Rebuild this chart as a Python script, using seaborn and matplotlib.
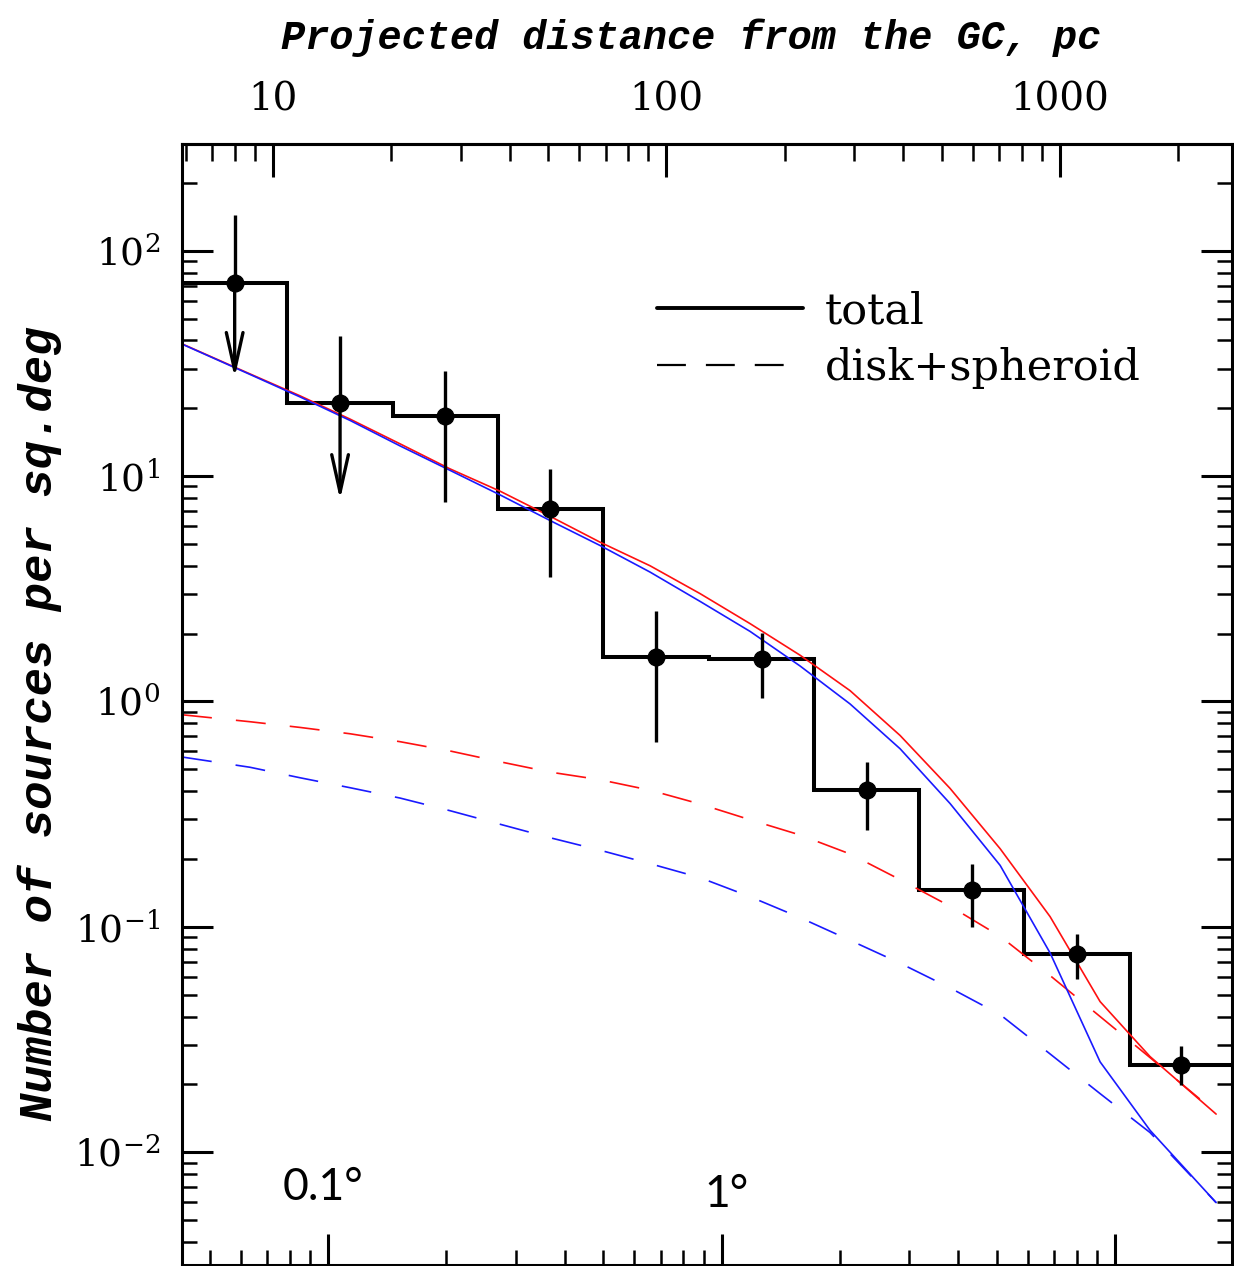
import numpy as np
import pandas as pd
import matplotlib
matplotlib.use("Agg")
import matplotlib.pyplot as plt
import seaborn as sns
from matplotlib.lines import Line2D
from matplotlib.ticker import (LogLocator, FixedLocator, NullFormatter,
                               FuncFormatter)

# projected parsecs per degree at the Galactic Centre distance
PC_PER_DEG = 138.0

# radial bins (degrees from the GC) and surface density of sources
bin_edges_deg = [0.04256, 0.07882, 0.1461, 0.2704, 0.499, 0.929,
                 1.721, 3.183, 5.872, 10.92, 19.82]
density = [72.1, 21.0, 18.4, 7.11, 1.57, 1.54, 0.403, 0.145, 0.0760, 0.0245]
density_hi = [144.0, 41.9, 29.1, 10.8, 2.51, 2.02, 0.539, 0.191, 0.0933, 0.0295]
density_lo = [27.3, 7.84, 7.71, 3.56, 0.663, 1.035, 0.268, 0.0999, 0.0588, 0.0198]
upper_limit = [True, True, False, False, False, False, False, False, False, False]

# model profiles
model_deg = [0.04256, 0.06333, 0.08488, 0.1137, 0.1524, 0.2042, 0.2736, 0.3666,
             0.4912, 0.6581, 0.8817, 1.1814, 1.583, 2.121, 2.842, 3.808, 5.104,
             6.837, 9.161, 12.27, 18.06]
total_red = [38.6, 28.4, 22.7, 17.9, 13.9, 10.76, 8.57, 6.63, 5.09, 4.00, 3.01,
             2.215, 1.604, 1.117, 0.7067, 0.4114, 0.2222, 0.1110, 0.0466,
             0.02657, 0.01477]
total_blue = [38.5, 28.25, 22.45, 17.66, 13.61, 10.6, 8.25, 6.35, 4.92, 3.75,
              2.78, 2.046, 1.437, 0.975, 0.617, 0.3525, 0.1874, 0.0766,
              0.02518, 0.01251, 0.00598]
disk_red = [0.873, 0.813, 0.767, 0.719, 0.663, 0.603, 0.540, 0.486, 0.4495,
            0.404, 0.3508, 0.2987, 0.2556, 0.2106, 0.1620, 0.1235, 0.0908,
            0.0608, 0.0400, 0.0263, 0.0150]
disk_blue = [0.567, 0.5106, 0.4587, 0.4144, 0.3728, 0.3276, 0.2853, 0.2486,
             0.2188, 0.1907, 0.1653, 0.1361, 0.1099, 0.0872, 0.0690, 0.0536,
             0.0408, 0.0273, 0.0182, 0.01223, 0.00598]

pc_ticks = [10, 100, 1000]
x_range = (0.04256, 19.82)
y_range = (0.003177, 297.3)

sns.set_style("ticks")
plt.rcParams["font.family"] = ["DejaVu Serif"]
plt.rcParams["mathtext.fontset"] = "dejavuserif"
plt.rcParams["text.color"] = "black"
plt.rcParams["axes.labelcolor"] = "black"
plt.rcParams["xtick.color"] = "black"
plt.rcParams["ytick.color"] = "black"
plt.rcParams["xtick.labelcolor"] = "black"
plt.rcParams["ytick.labelcolor"] = "black"

fig = plt.figure(figsize=(12.34, 12.66), dpi=100)
ax = fig.add_axes([182 / 1234, 1.5 / 1266, 1050 / 1234, 1120.5 / 1266])
ax.set_xscale("log")
ax.set_yscale("log")

models = pd.DataFrame({
    "deg": model_deg,
    "total_red": total_red,
    "total_blue": total_blue,
    "disk_red": disk_red,
    "disk_blue": disk_blue,
})

dash = (0, (18, 14.5))
sns.lineplot(data=models, x="deg", y="disk_red", ax=ax, color="#ff1010",
             lw=1.2, linestyle=dash, estimator=None, sort=False)
sns.lineplot(data=models, x="deg", y="disk_blue", ax=ax, color="#1a1aff",
             lw=1.2, linestyle=dash, estimator=None, sort=False)
sns.lineplot(data=models, x="deg", y="total_red", ax=ax, color="#ff1010",
             lw=1.2, estimator=None, sort=False)
sns.lineplot(data=models, x="deg", y="total_blue", ax=ax, color="#1a1aff",
             lw=1.2, estimator=None, sort=False)

# binned counts
edges = np.array(bin_edges_deg)
vals = np.array(density)
ax.stairs(vals, edges, baseline=None, color="k", lw=2.9)

centres = np.sqrt(edges[:-1] * edges[1:])
hi = np.array(density_hi)
lo = np.array(density_lo)
lim = np.array(upper_limit)
yerr_lo = np.where(lim, 0.0, vals - lo)
yerr_hi = hi - vals
ax.errorbar(centres, vals, yerr=[yerr_lo, yerr_hi], fmt="o", color="k",
            ms=12, elinewidth=2.4, capsize=0, zorder=5)
for xc, v, tip, is_lim in zip(centres, vals, lo, lim):
    if is_lim:
        ax.annotate("", xy=(xc, tip), xytext=(xc, v),
                    arrowprops=dict(arrowstyle="->,head_length=1.35,head_width=0.3",
                                    lw=2.4, color="k", shrinkA=0, shrinkB=0,
                                    mutation_scale=20), zorder=5)

ax.set_xlim(*x_range)
ax.set_ylim(*y_range)
ax.set_xlabel("")
ax.set_ylabel("")

# axes frame and ticks
for s in ax.spines.values():
    s.set_linewidth(2.2)
    s.set_color("k")
ax.xaxis.set_major_locator(LogLocator(base=10))
ax.xaxis.set_minor_locator(LogLocator(base=10, subs=np.arange(2, 10)))
ax.xaxis.set_major_formatter(NullFormatter())
ax.xaxis.set_minor_formatter(NullFormatter())
ax.yaxis.set_major_locator(FixedLocator([1e-2, 1e-1, 1e0, 1e1, 1e2]))
ax.yaxis.set_minor_locator(LogLocator(base=10, subs=np.arange(2, 10)))
ax.yaxis.set_major_formatter(FuncFormatter(lambda v, p: r"$10^{%d}$" % round(np.log10(v))))
ax.yaxis.set_minor_formatter(NullFormatter())
ax.tick_params(which="both", direction="in", top=False, right=True,
               bottom=True, left=True, color="k", labelcolor="k")
ax.tick_params(which="major", length=22, width=2.2, labelsize=27, pad=16)
ax.tick_params(which="minor", length=11, width=1.8)

secax = ax.secondary_xaxis("top", functions=(lambda d: d * PC_PER_DEG,
                                             lambda p: p / PC_PER_DEG))
secax.spines["top"].set_linewidth(2.2)
secax.xaxis.set_major_locator(FixedLocator(pc_ticks))
secax.xaxis.set_minor_locator(LogLocator(base=10, subs=np.arange(2, 10)))
secax.xaxis.set_major_formatter(FuncFormatter(lambda v, p: "%g" % v))
secax.xaxis.set_minor_formatter(NullFormatter())
secax.tick_params(which="both", direction="in", color="k", labelcolor="k")
secax.tick_params(which="major", length=24, width=2.2, labelsize=28, pad=18)
secax.tick_params(which="minor", length=12, width=1.8)

# axis titles
fig.text(691 / 1234, 1 - 49 / 1266, "Projected distance from the GC, pc",
         family="Liberation Mono", weight="bold", style="italic",
         fontsize=29, ha="center", va="baseline", color="k")
fig.text(40 / 1234, 1 - 724 / 1266, "Number of sources per sq.deg",
         family="Liberation Mono", weight="bold", style="italic",
         fontsize=34, ha="center", va="center", rotation=90, color="k")

# angular scale markers
ax.text(0.0962, 0.058, "0.1°", transform=ax.transAxes, family="Lato",
        fontsize=32, ha="left", va="baseline", color="k")
ax.text(0.498, 0.0517, "1°", transform=ax.transAxes, family="Lato",
        fontsize=32, ha="left", va="baseline", color="k")

handles = [Line2D([], [], color="k", lw=2.8),
           Line2D([], [], color="k", lw=1.6, linestyle=(0, (13, 9)))]
leg = ax.legend(handles, ["total", "disk+spheroid"], loc="center left",
                bbox_to_anchor=(0.4524, 0.8252), frameon=False, fontsize=31,
                handlelength=3.4, handletextpad=0.5, labelspacing=0.35,
                borderpad=0, borderaxespad=0)
for t in leg.get_texts():
    t.set_color("k")

fig.savefig("out.png", dpi=100)
